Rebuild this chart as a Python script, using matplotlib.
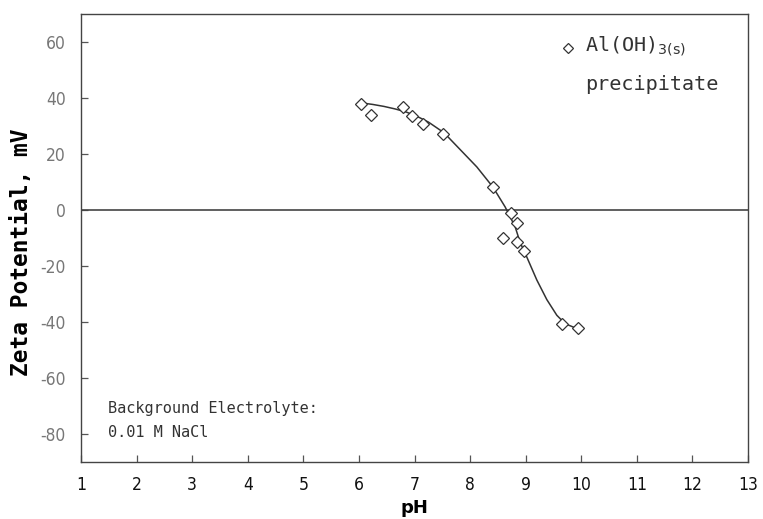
import matplotlib
matplotlib.use("Agg")
import matplotlib.pyplot as plt

plt.rcParams["axes.unicode_minus"] = False

# measured zeta potential of Al(OH)3(s) precipitate
ph_pts = [6.03, 6.21, 6.80, 6.96, 7.16, 7.52, 8.41, 8.74, 8.85, 8.59, 8.85, 8.97, 9.65, 9.94]
zeta_pts = [37.9, 33.9, 36.8, 33.6, 30.7, 27.1, 8.2, -1.1, -4.6, -10.0, -11.4, -14.6, -40.7, -42.1]

# hand-drawn trend curve
ph_curve = [6.03, 6.25, 6.45, 6.65, 6.85, 7.05, 7.25, 7.53, 7.82, 8.12, 8.41, 8.63, 8.81,
            8.90, 9.02, 9.20, 9.38, 9.56, 9.71, 9.94]
zeta_curve = [38.3, 37.7, 37.0, 36.1, 35.0, 33.4, 31.4, 27.6, 21.6, 15.4, 8.2, 1.1, -6.0,
              -11.6, -16.8, -25.0, -32.0, -37.6, -40.6, -42.5]

x_ticks = list(range(1, 14))
y_ticks = [-80, -60, -40, -20, 0, 20, 40, 60]

fig = plt.figure(figsize=(7.63, 5.19), dpi=100)
ax = fig.add_axes([0.1062, 0.1098, 0.8742, 0.8632])

ax.axhline(0, color="#444444", linewidth=1.2)
ax.plot(ph_curve, zeta_curve, color="#333333", linewidth=1.1)
ax.plot(ph_pts, zeta_pts, linestyle="none", marker="D", markersize=6.3,
        markerfacecolor="white", markeredgecolor="#333333", markeredgewidth=0.9)

ax.set_xlim(1, 13)
ax.set_ylim(-90, 70)
ax.set_xticks(x_ticks)
ax.set_yticks(y_ticks)
ax.tick_params(direction="in", length=5, width=0.9, color="#555555",
               top=False, right=False)
ax.tick_params(axis="y", pad=11, labelsize=12.5, labelcolor="#777777")
ax.tick_params(axis="x", pad=10, labelsize=12.5, labelcolor="#111111")
for lab in ax.get_xticklabels() + ax.get_yticklabels():
    lab.set_fontstretch("condensed")
for s in ax.spines.values():
    s.set_color("#444444")
    s.set_linewidth(1.0)

ax.set_xlabel("pH", fontsize=13, fontweight="bold", labelpad=4)
ax.set_ylabel("Zeta Potential, mV", fontsize=16.5, fontweight="bold",
              family="DejaVu Sans Mono")
ax.yaxis.set_label_coords(-0.072, 0.469)

# legend written as free text, like the original
ax.plot([9.76], [57.9], marker="D", markersize=5.5,
        markerfacecolor="white", markeredgecolor="#333333",
        markeredgewidth=0.9, clip_on=False)
ax.text(10.07, 58.5, r"Al(OH)$_{\mathrm{3(s)}}$", fontsize=14.5,
        family="DejaVu Sans Mono", color="#333333", va="center")
ax.text(10.07, 45.0, "precipitate", fontsize=14.5,
        family="DejaVu Sans Mono", color="#333333", va="center")

ax.text(1.48, -71.0, "Background Electrolyte:", fontsize=11,
        family="DejaVu Sans Mono", color="#333333", va="center")
ax.text(1.48, -79.3, "0.01 M NaCl", fontsize=11,
        family="DejaVu Sans Mono", color="#333333", va="center")

fig.savefig("out.png", dpi=100)
